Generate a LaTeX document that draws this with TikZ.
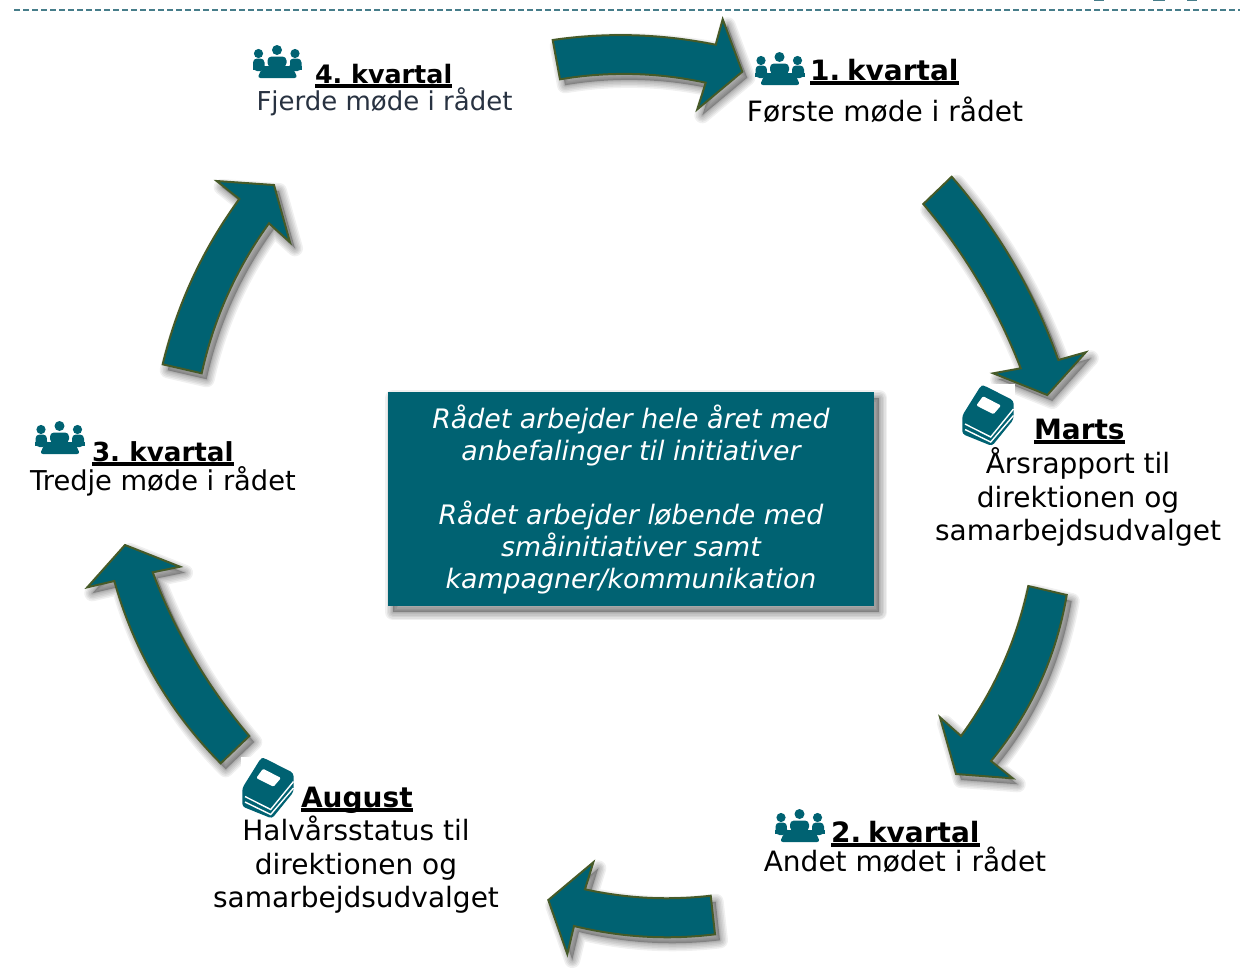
\documentclass[tikz,border=0pt]{standalone}
\usepackage{fontspec}
\usetikzlibrary{calc}
\setmainfont{DejaVu Sans}
\definecolor{tealbox}{RGB}{0,98,114}
\definecolor{olive}{RGB}{70,90,40}
\definecolor{dashcol}{RGB}{70,125,138}
\definecolor{softink}{RGB}{40,50,65}
\newcommand\ulhead[1]{\setbox0\hbox{\bfseries #1}\rlap{\rule[-2.4pt]{\wd0}{1.8pt}}\box0}
\newcommand\softshadow[1]{%
  \path[fill=black,opacity=.25,shift={(5,6)}] #1;
  \foreach \w in {16,13,10,7,4,2}{%
    \path[draw=black,opacity=.06,line width=\w*0.5pt,line join=round,shift={(5,6)}] #1;}}
\newcommand\curvedarrow[1]{\softshadow{#1}\path[arrowbody] #1;}
\newcommand\peopleicon[3][1]{%
  \begin{scope}[shift={(#2,#3)},scale=#1]
    \fill[tealbox] (6,8.5) circle (4.6) (24.5,5) circle (5) (42.5,8.5) circle (4.6);
    \fill[tealbox,rounded corners=2] (0.5,13.5) rectangle (12,26);
    \fill[tealbox,rounded corners=2] (37,13.5) rectangle (49,26);
    \fill[tealbox,rounded corners=2] (15,11.5) rectangle (34,22);
    \fill[tealbox] (0,20.5) rectangle (49.5,25);
    \fill[tealbox,rounded corners=1.5] (9,24) -- (41,24) -- (45,33) -- (5,33) -- cycle;
    \draw[white,line width=0.4pt] (12.5,15) -- (12.5,20) (36.5,15) -- (36.5,20);
  \end{scope}}
\newcommand\bookicon[2]{%
  \begin{scope}[shift={(#1,#2)}]
    \fill[white] (-1,-1.5) rectangle (53,61);
    \fill[tealbox,rounded corners=1.5] (19,0) -- (22,0) -- (51.5,15) -- (51.5,34) -- (30,60.5) -- (0.3,48.5) -- (0.3,30) -- cycle;
    \draw[white,line width=0.7pt] (3,38.5) -- (28.7,51.5) -- (51.5,23.5);
    \draw[white,line width=0.7pt] (3,44) -- (28.7,56.5) -- (51.5,30);
    \fill[white,rounded corners=0.6] (21,10.7) -- (39,20) -- (31.5,28.7) -- (14.3,20) -- cycle;
  \end{scope}}
\begin{document}
\begin{tikzpicture}[x=0.5pt,y=-0.5pt,
  arrowbody/.style={fill=tealbox,draw=olive,line width=1pt,line join=miter},
  lbl/.style={inner sep=0pt,outer sep=0pt,font=\fontsize{14}{16.8}\selectfont,text=black,align=center},
  head/.style={inner sep=0pt,outer sep=0pt,anchor=base west,font=\fontsize{14}{16.8}\selectfont,text=black},
  boxtext/.style={inner sep=0pt,anchor=base,font=\fontsize{13.4}{16}\selectfont\itshape,text=white,align=center}]
\useasboundingbox (0,0) rectangle (1240,971);
\fill[white] (0,0) rectangle (1240,971);
% top rule and cropped bits
\draw[dashcol,line width=0.65pt,dash pattern=on 3pt off 1.5pt] (14,10) -- (1240,10);
\draw[dashcol,line width=0.8pt] (1094,0.4) -- (1104,0.4) (1153,0.4) -- (1165,0.4) (1187,0.4) -- (1197,0.4);
% arrows
\curvedarrow{(552.7,40) .. controls ($(552.7,40)!.6667!(634,28.25)$) and ($(715.7,44.7)!.6667!(634,28.25)$) .. (715.7,44.7) -- (722.7,19.3) -- (742.3,71.7) -- (697.3,109.3) -- (705.7,82.7) .. controls ($(705.7,82.7)!.6667!(632.85,67)$) and ($(560,79.3)!.6667!(632.85,67)$) .. (560,79.3) -- cycle}
\curvedarrow{(951.7,176.7) .. controls ($(951.7,176.7)!.6667!(1022.3,258.3)$) and ($(1058.3,360)!.6667!(1022.3,258.3)$) .. (1058.3,360) -- (1085.7,352.3) -- (1047.3,395) -- (993.3,373.3) -- (1020.7,368.3) .. controls ($(1020.7,368.3)!.6667!(985.8,278)$) and ($(923.3,204)!.6667!(985.8,278)$) .. (923.3,204) -- cycle}
\curvedarrow{(1066.7,595) .. controls ($(1066.7,595)!.6667!(1051,688.1)$) and ($(991,761)!.6667!(1051,688.1)$) .. (991,761) -- (1012.7,778.3) -- (956,774) -- (940,717.3) -- (961,736) .. controls ($(961,736)!.6667!(1010.7,668.2)$) and ($(1028.3,586)!.6667!(1010.7,668.2)$) .. (1028.3,586) -- cycle}
\curvedarrow{(710.7,895.7) .. controls ($(710.7,895.7)!.6667!(647,903)$) and ($(585,889.3)!.6667!(647,903)$) .. (585,889.3) -- (593.3,862.3) -- (548.3,900) -- (567.3,954) -- (574,926) .. controls ($(574,926)!.6667!(644,943)$) and ($(715,934.3)!.6667!(644,943)$) .. (715,934.3) -- cycle}
\curvedarrow{(249.3,736) .. controls ($(249.3,736)!.6667!(186.7,662.6)$) and ($(152.7,572.3)!.6667!(186.7,662.6)$) .. (152.7,572.3) -- (180,566.7) -- (125,545) -- (87.3,587.3) -- (114.3,581) .. controls ($(114.3,581)!.6667!(143.8,686)$) and ($(220.7,763.3)!.6667!(143.8,686)$) .. (220.7,763.3) -- cycle}
\curvedarrow{(201.7,373.3) .. controls ($(201.7,373.3)!.6667!(219.8,291.3)$) and ($(269,223.3)!.6667!(219.8,291.3)$) .. (269,223.3) -- (290,242.3) -- (274,185) -- (216.7,181) -- (239.3,199) .. controls ($(239.3,199)!.6667!(184.5,274)$) and ($(162.7,364.3)!.6667!(184.5,274)$) .. (162.7,364.3) -- cycle}
% centre box
\softshadow{(388,392) rectangle (874,606)}
\fill[tealbox] (388,392) rectangle (874,606);
\node[boxtext] (t1) at (631,428) {Rådet arbejder hele året med};
\node[boxtext] (t2) at (631,460) {anbefalinger til initiativer};
\node[boxtext] (t3) at (631,524) {Rådet arbejder løbende med};
\node[boxtext] (t4) at (631,556) {småinitiativer samt};
\node[boxtext] (t5) at (631,588) {kampagner/kommunikation};
% icons
\peopleicon{252.5}{45}
\peopleicon{755}{52}
\peopleicon{35}{421}
\peopleicon{775}{809}
\bookicon{962}{385.5}
\bookicon{242}{758}
% labels
\node[head,font=\fontsize{12.7}{15}\selectfont] (h4) at (315,83) {\ulhead{4.\hspace{-1.5pt} kvartal}};
\node[lbl,text=softink,anchor=base,font=\fontsize{13}{16}\selectfont] (s4) at (384.5,110) {Fjerde møde i rådet};
\node[head] (h1) at (810,80) {\ulhead{1.\hspace{-3pt} kvartal}};
\node[lbl,anchor=base] (s1) at (885,121) {Første møde i rådet};
\node[head] (hm) at (1034,439) {\ulhead{Marts}};
\node[lbl,anchor=base] (sm1) at (1078,473) {Årsrapport til};
\node[lbl,anchor=base] (sm2) at (1078,507) {direktionen og};
\node[lbl,anchor=base] (sm3) at (1078,540) {samarbejdsudvalget};
\node[head] (h2) at (831,842) {\ulhead{2.\hspace{-3pt} kvartal}};
\node[lbl,anchor=base] (s2) at (905,871) {Andet mødet i rådet};
\node[head] (ha) at (301,807) {\ulhead{August}};
\node[lbl,anchor=base] (sa1) at (356,840) {Halvårsstatus til};
\node[lbl,anchor=base] (sa2) at (356,874) {direktionen og};
\node[lbl,anchor=base] (sa3) at (356,907) {samarbejdsudvalget};
\node[head,font=\fontsize{13.1}{15}\selectfont] (h3) at (92,461) {\ulhead{3.\hspace{-1.5pt} kvartal}};
\node[lbl,anchor=base,font=\fontsize{13.65}{16}\selectfont] (s3) at (163,490) {Tredje møde i rådet};
\end{tikzpicture}
\end{document}
